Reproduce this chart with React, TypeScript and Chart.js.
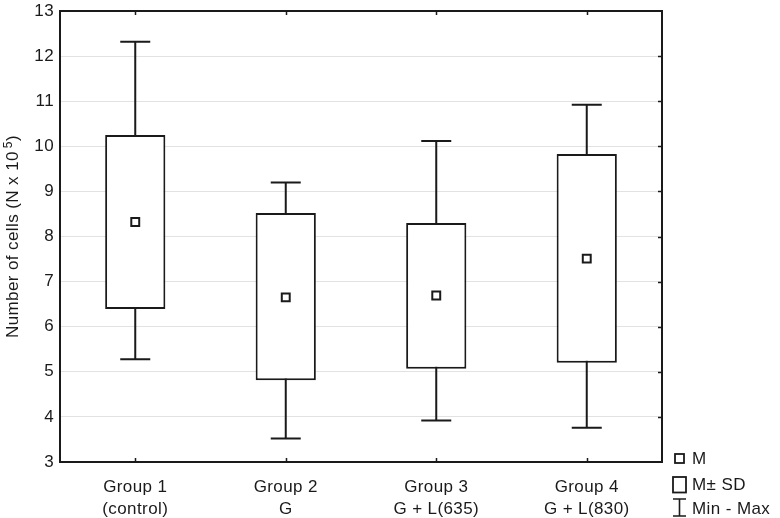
import React, { useEffect, useRef } from 'react';
import { Chart, registerables } from 'chart.js';

Chart.register(...registerables);

// ---- data ----
const categories: string[][] = [
  ['Group 1', '(control)'],
  ['Group 2', 'G'],
  ['Group 3', 'G + L(635)'],
  ['Group 4', 'G + L(830)'],
];
const means = [8.32, 6.65, 6.69, 7.51];
const sdLow = [6.39, 4.81, 5.07, 5.2];
const sdHigh = [10.25, 8.52, 8.3, 9.83];
const minVals = [5.28, 3.52, 3.92, 3.76];
const maxVals = [12.32, 9.2, 10.12, 10.92];
const yMin = 3;
const yMax = 13;
const yStep = 1;
const yTitleMain = 'Number of cells (N x 10';
const yTitleSup = '5';
const yTitleEnd = ')';
const legendLabels = ['M', 'M\u00B1 SD', 'Min - Max'];

const FONT = "'Liberation Sans', Arial, Helvetica, sans-serif";
const INK = '#1a1a1a';
const SPACING = '0.4px';

function setSpacing(chart: any) {
  try {
    (chart.ctx as any).letterSpacing = SPACING;
  } catch (e) {}
}

const decorPlugin = {
  id: 'decor',
  beforeUpdate(chart: any) {
    setSpacing(chart);
  },
  beforeLayout(chart: any) {
    setSpacing(chart);
  },
  beforeDraw(chart: any) {
    setSpacing(chart);
  },
  beforeDatasetsDraw(chart: any) {
    const { ctx } = chart;
    const x = chart.scales.x;
    const y = chart.scales.y;
    ctx.save();
    ctx.strokeStyle = INK;
    ctx.lineWidth = 2;
    minVals.forEach((mn, i) => {
      const cx = x.getPixelForValue(i);
      const y0 = y.getPixelForValue(mn);
      const y1 = y.getPixelForValue(maxVals[i]);
      ctx.beginPath();
      ctx.moveTo(cx, y0);
      ctx.lineTo(cx, y1);
      ctx.moveTo(cx - 15, y0);
      ctx.lineTo(cx + 15, y0);
      ctx.moveTo(cx - 15, y1);
      ctx.lineTo(cx + 15, y1);
      ctx.stroke();
    });
    ctx.restore();
  },
  afterDraw(chart: any) {
    const { ctx, chartArea } = chart;
    const { left, right, top, bottom } = chartArea;
    const x = chart.scales.x;
    const y = chart.scales.y;
    ctx.save();
    (ctx as any).letterSpacing = SPACING;
    // frame
    ctx.strokeStyle = INK;
    ctx.lineWidth = 2;
    ctx.strokeRect(left, top, right - left, bottom - top);
    // inner ticks
    ctx.lineWidth = 1.5;
    ctx.beginPath();
    for (let v = yMin + yStep; v < yMax; v += yStep) {
      const py = Math.round(y.getPixelForValue(v)) + 0.5;
      ctx.moveTo(right, py);
      ctx.lineTo(right - 4, py);
    }
    categories.forEach((_, i) => {
      const px = Math.round(x.getPixelForValue(i)) + 0.5;
      ctx.moveTo(px, top);
      ctx.lineTo(px, top + 4);
      ctx.moveTo(px, bottom);
      ctx.lineTo(px, bottom - 4);
    });
    ctx.stroke();

    // y-axis title with superscript
    ctx.fillStyle = INK;
    const mainFont = `17px ${FONT}`;
    const supFont = `12px ${FONT}`;
    ctx.font = mainFont;
    const wMain = ctx.measureText(yTitleMain).width;
    const wEnd = ctx.measureText(yTitleEnd).width;
    ctx.font = supFont;
    const wSup = ctx.measureText(yTitleSup).width;
    const gap = 3;
    const total = wMain + gap + wSup + wEnd;
    ctx.translate(18, (top + bottom) / 2);
    ctx.rotate(-Math.PI / 2);
    ctx.textAlign = 'left';
    ctx.textBaseline = 'alphabetic';
    let cx = -total / 2;
    ctx.font = mainFont;
    ctx.fillText(yTitleMain, cx, 0);
    cx += wMain + gap;
    ctx.font = supFont;
    ctx.fillText(yTitleSup, cx, -6);
    cx += wSup;
    ctx.font = mainFont;
    ctx.fillText(yTitleEnd, cx, 0);
    ctx.setTransform(1, 0, 0, 1, 0, 0);
    ctx.restore();

    // legend
    ctx.save();
    (ctx as any).letterSpacing = SPACING;
    ctx.strokeStyle = INK;
    ctx.fillStyle = INK;
    ctx.font = `17px ${FONT}`;
    ctx.textAlign = 'left';
    ctx.textBaseline = 'middle';
    const lx = right + 30;
    // M
    ctx.lineWidth = 1.8;
    ctx.strokeRect(675, 454, 9, 9);
    ctx.fillText(legendLabels[0], lx, 459.5);
    // M ± SD
    ctx.strokeRect(673, 477, 13, 15.5);
    ctx.fillText(legendLabels[1], lx, 485);
    // Min - Max
    ctx.lineWidth = 1.6;
    ctx.beginPath();
    ctx.moveTo(679.5, 499);
    ctx.lineTo(679.5, 516);
    ctx.moveTo(673, 499);
    ctx.lineTo(686, 499);
    ctx.moveTo(673, 516);
    ctx.lineTo(686, 516);
    ctx.stroke();
    ctx.fillText(legendLabels[2], lx, 509);
    ctx.restore();
  },
};

export default function App() {
  const ref = useRef<HTMLCanvasElement | null>(null);
  useEffect(() => {
    if (!ref.current) return;
    const chart = new Chart(ref.current, {
      type: 'bar',
      data: {
        labels: categories as any,
        datasets: [
          {
            type: 'line',
            label: 'M',
            data: means,
            showLine: false,
            pointStyle: 'rect',
            pointRadius: 5.6,
            pointHoverRadius: 5.6,
            pointBackgroundColor: '#ffffff',
            pointBorderColor: INK,
            pointBorderWidth: 2,
            pointHoverBorderWidth: 2,
            order: 0,
          } as any,
          {
            type: 'bar',
            label: 'M\u00B1SD',
            data: sdLow.map((lo, i) => [lo, sdHigh[i]]) as any,
            backgroundColor: '#ffffff',
            borderColor: INK,
            borderWidth: 2,
            borderSkipped: false,
            categoryPercentage: 1,
            barPercentage: 0.4,
            order: 1,
          } as any,
        ],
      },
      options: {
        animation: false,
        responsive: false,
        maintainAspectRatio: false,
        events: [],
        layout: { padding: { top: 11, right: 118, left: 0, bottom: 0 } },
        plugins: {
          legend: { display: false },
          tooltip: { enabled: false },
        },
        scales: {
          x: {
            grid: { display: false },
            border: { display: false },
            ticks: {
              font: { size: 17, family: FONT, lineHeight: 1.32 },
              color: INK,
              padding: 6,
              maxRotation: 0,
              autoSkip: false,
            },
            afterFit: (s: any) => {
              s.height = 56;
              s.paddingLeft = 0;
              s.paddingRight = 0;
            },
          },
          y: {
            min: yMin,
            max: yMax,
            ticks: {
              stepSize: yStep,
              font: { size: 17, family: FONT },
              color: INK,
              padding: 6,
            },
            grid: { color: '#e2e2e2', lineWidth: 1, drawTicks: false },
            border: { display: false },
            afterFit: (s: any) => {
              s.width = 60;
              s.paddingTop = 0;
              s.paddingBottom = 0;
            },
          },
        },
      } as any,
      plugins: [decorPlugin],
    });
    return () => chart.destroy();
  }, []);
  return (
    <div style={{ position: 'absolute', left: 0, top: 0, width: 780, height: 518, background: '#fff' }}>
      <canvas ref={ref} width={780} height={518} style={{ display: 'block', width: 780, height: 518 }} />
    </div>
  );
}
